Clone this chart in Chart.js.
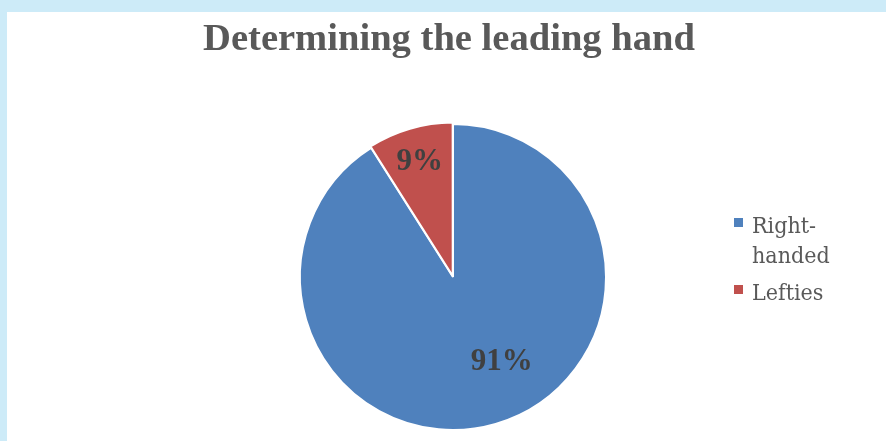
<!DOCTYPE html>
<html>
<head>
<meta charset="utf-8">
<script src="https://cdn.jsdelivr.net/npm/chart.js@4.4.1/dist/chart.umd.min.js"></script>
<style>
  html, body { margin: 0; padding: 0; background: #cdebf8; width: 886px; height: 441px; overflow: hidden; }
  #wrap { position: absolute; left: 7px; top: 12px; width: 879px; height: 429px; background: #ffffff; }
  canvas { display: block; }
</style>
</head>
<body>
<div id="wrap"><canvas id="c" width="879" height="429"></canvas></div>
<script>
const titleText = "Determining the leading hand";
const categories = ["Right-handed", "Lefties"];
const legendLines = [["Right-", "handed"], ["Lefties"]];
const shares = [91, 9];
const valueLabels = ["91%", "9%"];
const sliceColors = ["#4f81bd", "#c0504d"];

// label placement (angle in degrees from 12 o'clock clockwise; null = slice middle), radius fraction
const labelPlacement = [{ angle: 150.1, r: 0.64 }, { angle: null, r: 0.78 }];

const titlePlugin = {
  id: 'chartTitle',
  afterDraw(chart) {
    const ctx = chart.ctx;
    ctx.save();
    ctx.font = 'bold 38.6px "Liberation Serif", "Times New Roman", serif';
    ctx.fillStyle = '#595959';
    ctx.textAlign = 'center';
    ctx.textBaseline = 'alphabetic';
    ctx.fillText(titleText, 442, 38);
    ctx.restore();
  }
};

const labelPlugin = {
  id: 'sliceLabels',
  afterDatasetsDraw(chart) {
    const ctx = chart.ctx;
    const meta = chart.getDatasetMeta(0);
    ctx.save();
    ctx.font = 'bold 31px "Liberation Serif", "Times New Roman", serif';
    ctx.fillStyle = '#404040';
    ctx.textAlign = 'center';
    ctx.textBaseline = 'middle';
    meta.data.forEach((arc, i) => {
      const p = arc.getProps(['x', 'y', 'startAngle', 'endAngle', 'outerRadius'], true);
      const pl = labelPlacement[i];
      const a = pl.angle === null ? (p.startAngle + p.endAngle) / 2 : (pl.angle - 90) * Math.PI / 180;
      const rr = p.outerRadius * pl.r;
      ctx.fillText(valueLabels[i], p.x + Math.cos(a) * rr, p.y + Math.sin(a) * rr);
    });
    ctx.restore();
  }
};

const legendPlugin = {
  id: 'sideLegend',
  afterDraw(chart) {
    const ctx = chart.ctx;
    ctx.save();
    ctx.font = '23px "DejaVu Serif Condensed", "DejaVu Serif", serif';
    ctx.fontStretch = 'condensed';
    ctx.textBaseline = 'alphabetic';
    ctx.textAlign = 'left';
    const sqX = 727, txtX = 745, lineH = 30;
    const baselines = [221, 288];
    legendLines.forEach((lines, i) => {
      const y = baselines[i];
      ctx.fillStyle = sliceColors[i];
      ctx.fillRect(sqX, y - 15, 9, 9);
      ctx.fillStyle = '#595959';
      lines.forEach((t, k) => ctx.fillText(t, txtX, y + k * lineH));
    });
    ctx.restore();
  }
};

new Chart(document.getElementById('c'), {
  type: 'pie',
  data: {
    labels: categories,
    datasets: [{
      data: shares,
      backgroundColor: sliceColors,
      borderColor: '#ffffff',
      borderWidth: 2,
      offset: [0, 4]
    }]
  },
  options: {
    responsive: false,
    animation: false,
    layout: { padding: { left: 13, right: 0, top: 109, bottom: 8 } },
    plugins: {
      legend: { display: false },
      tooltip: { enabled: false },
      title: { display: false }
    }
  },
  plugins: [labelPlugin, legendPlugin, titlePlugin]
});
</script>
</body>
</html>
